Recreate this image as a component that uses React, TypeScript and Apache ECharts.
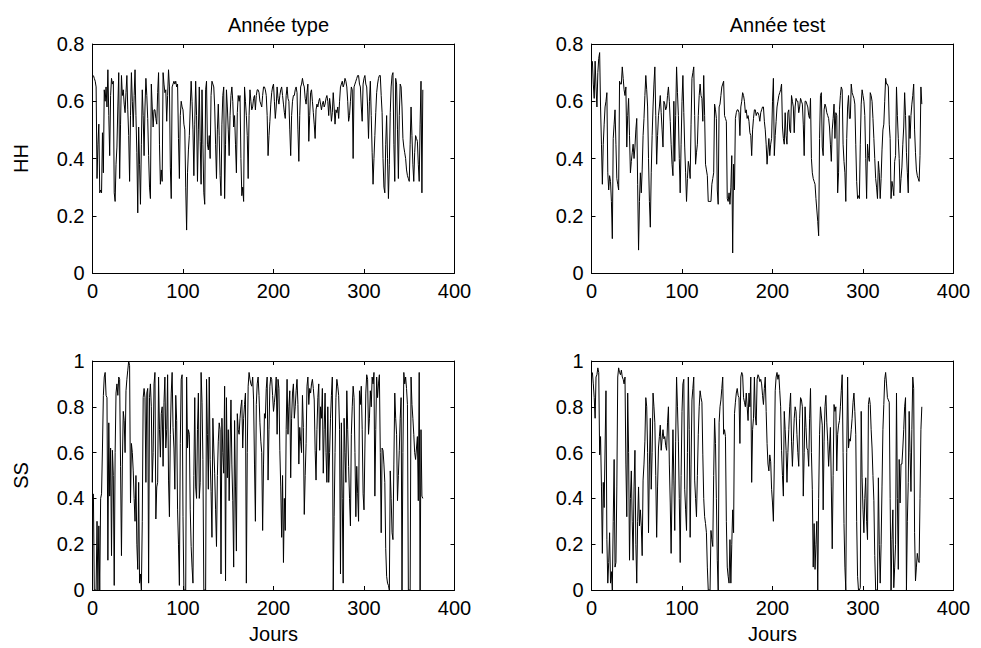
import React, { useEffect, useRef } from "react";
import * as echarts from "echarts";

const panelTitles = ["Année type", "Année test"];
const rowNames = ["HH", "SS"];
const xAxisName = "Jours";
const xTicks = [0, 100, 200, 300, 400];

// HH, année type (jour 1..365)
const hhType = [
  0.69, 0.68, 0.67, 0.65, 0.33, 0.45, 0.52, 0.28, 0.29, 0.28,
  0.49, 0.35, 0.64, 0.60, 0.65, 0.58, 0.71, 0.55, 0.41, 0.62,
  0.68, 0.66, 0.67, 0.28, 0.25, 0.38, 0.44, 0.58, 0.70, 0.33,
  0.52, 0.69, 0.62, 0.64, 0.59, 0.56, 0.63, 0.69, 0.57, 0.48,
  0.32, 0.55, 0.70, 0.60, 0.51, 0.62, 0.71, 0.55, 0.42, 0.21,
  0.51, 0.38, 0.24, 0.45, 0.64, 0.55, 0.41, 0.58, 0.68, 0.62,
  0.54, 0.41, 0.30, 0.26, 0.66, 0.58, 0.51, 0.57, 0.57, 0.54,
  0.52, 0.63, 0.70, 0.45, 0.31, 0.36, 0.32, 0.70, 0.66, 0.63,
  0.64, 0.53, 0.62, 0.71, 0.65, 0.37, 0.26, 0.65, 0.66, 0.67,
  0.66, 0.67, 0.65, 0.66, 0.47, 0.33, 0.55, 0.60, 0.58, 0.57,
  0.52, 0.50, 0.30, 0.15, 0.35, 0.43, 0.48, 0.58, 0.67, 0.60,
  0.50, 0.34, 0.52, 0.67, 0.55, 0.32, 0.50, 0.65, 0.46, 0.31,
  0.64, 0.45, 0.28, 0.24, 0.64, 0.67, 0.45, 0.43, 0.48, 0.40,
  0.62, 0.67, 0.66, 0.65, 0.58, 0.45, 0.33, 0.50, 0.59, 0.48,
  0.34, 0.27, 0.52, 0.62, 0.65, 0.26, 0.45, 0.64, 0.58, 0.50,
  0.41, 0.55, 0.62, 0.65, 0.60, 0.51, 0.55, 0.45, 0.35, 0.56,
  0.62, 0.60, 0.62, 0.40, 0.27, 0.30, 0.25, 0.65, 0.60, 0.55,
  0.48, 0.33, 0.55, 0.64, 0.60, 0.57, 0.58, 0.61, 0.62, 0.57,
  0.62, 0.64, 0.64, 0.63, 0.60, 0.59, 0.58, 0.62, 0.65, 0.65,
  0.64, 0.62, 0.55, 0.41, 0.48, 0.53, 0.59, 0.63, 0.65, 0.66,
  0.60, 0.54, 0.58, 0.65, 0.61, 0.59, 0.62, 0.64, 0.65, 0.62,
  0.59, 0.56, 0.54, 0.62, 0.65, 0.61, 0.60, 0.50, 0.41, 0.55,
  0.60, 0.62, 0.62, 0.64, 0.65, 0.63, 0.50, 0.39, 0.55, 0.65,
  0.66, 0.68, 0.66, 0.65, 0.61, 0.59, 0.63, 0.66, 0.46, 0.55,
  0.63, 0.64, 0.60, 0.56, 0.52, 0.47, 0.57, 0.59, 0.58, 0.60,
  0.61, 0.59, 0.57, 0.59, 0.60, 0.58, 0.59, 0.61, 0.62, 0.60,
  0.55, 0.61, 0.58, 0.53, 0.56, 0.63, 0.58, 0.52, 0.57, 0.56,
  0.58, 0.54, 0.60, 0.65, 0.66, 0.67, 0.65, 0.66, 0.68, 0.67,
  0.65, 0.60, 0.53, 0.55, 0.60, 0.65, 0.64, 0.40, 0.65, 0.66,
  0.67, 0.68, 0.69, 0.69, 0.66, 0.65, 0.58, 0.53, 0.66, 0.68,
  0.69, 0.66, 0.65, 0.58, 0.47, 0.60, 0.67, 0.55, 0.42, 0.31,
  0.40, 0.48, 0.56, 0.63, 0.66, 0.68, 0.69, 0.69, 0.62, 0.56,
  0.40, 0.30, 0.28, 0.45, 0.55, 0.40, 0.26, 0.38, 0.56, 0.65,
  0.69, 0.70, 0.45, 0.32, 0.68, 0.66, 0.50, 0.33, 0.55, 0.66,
  0.65, 0.58, 0.47, 0.44, 0.42, 0.40, 0.36, 0.34, 0.33, 0.32,
  0.45, 0.58, 0.48, 0.38, 0.32, 0.42, 0.48, 0.47, 0.46, 0.38,
  0.32, 0.52, 0.67, 0.28, 0.64,
];

// HH, année test
const hhTest = [
  0.74, 0.66, 0.61, 0.74, 0.65, 0.58, 0.70, 0.75, 0.77, 0.58,
  0.45, 0.31, 0.45, 0.52, 0.58, 0.60, 0.63, 0.35, 0.29, 0.34,
  0.32, 0.25, 0.12, 0.47, 0.52, 0.57, 0.45, 0.33, 0.31, 0.29,
  0.67, 0.66, 0.66, 0.72, 0.68, 0.64, 0.62, 0.65, 0.44, 0.55,
  0.61, 0.48, 0.35, 0.39, 0.42, 0.45, 0.40, 0.44, 0.50, 0.54,
  0.31, 0.08, 0.25, 0.35, 0.28, 0.36, 0.48, 0.54, 0.62, 0.69,
  0.64, 0.58, 0.40, 0.25, 0.16, 0.35, 0.48, 0.58, 0.66, 0.72,
  0.55, 0.38, 0.48, 0.55, 0.58, 0.62, 0.56, 0.50, 0.44, 0.60,
  0.59, 0.57, 0.58, 0.62, 0.65, 0.60, 0.53, 0.45, 0.38, 0.34,
  0.60, 0.39, 0.55, 0.72, 0.63, 0.55, 0.40, 0.28, 0.45, 0.60,
  0.69, 0.56, 0.44, 0.35, 0.25, 0.33, 0.39, 0.37, 0.33, 0.52,
  0.68, 0.70, 0.72, 0.55, 0.38, 0.42, 0.45, 0.55, 0.62, 0.66,
  0.62, 0.61, 0.53, 0.69, 0.55, 0.38, 0.36, 0.34, 0.25, 0.25,
  0.25, 0.25, 0.31, 0.33, 0.35, 0.59, 0.57, 0.54, 0.29, 0.24,
  0.58, 0.59, 0.62, 0.65, 0.66, 0.67, 0.55, 0.54, 0.53, 0.26,
  0.25, 0.28, 0.24, 0.30, 0.41, 0.07, 0.38, 0.29, 0.54, 0.56,
  0.57, 0.57, 0.56, 0.48, 0.58, 0.60, 0.63, 0.62, 0.60, 0.56,
  0.57, 0.54, 0.55, 0.53, 0.49, 0.48, 0.41, 0.50, 0.54, 0.57,
  0.57, 0.55, 0.56, 0.56, 0.55, 0.53, 0.56, 0.57, 0.58, 0.58,
  0.53, 0.50, 0.45, 0.38, 0.43, 0.47, 0.41, 0.45, 0.47, 0.60,
  0.68, 0.41, 0.48, 0.53, 0.58, 0.60, 0.62, 0.63, 0.64, 0.66,
  0.51, 0.47, 0.45, 0.56, 0.48, 0.45, 0.56, 0.57, 0.50, 0.49,
  0.62, 0.60, 0.58, 0.49, 0.58, 0.61, 0.60, 0.60, 0.56, 0.58,
  0.61, 0.60, 0.59, 0.52, 0.41, 0.60, 0.60, 0.59, 0.58, 0.55,
  0.54, 0.61, 0.40, 0.35, 0.33, 0.32, 0.31, 0.26, 0.22, 0.18,
  0.13, 0.47, 0.62, 0.63, 0.44, 0.41, 0.57, 0.59, 0.58, 0.56,
  0.55, 0.54, 0.51, 0.45, 0.39, 0.50, 0.54, 0.59, 0.47, 0.56,
  0.55, 0.28, 0.35, 0.57, 0.62, 0.65, 0.64, 0.45, 0.39, 0.35,
  0.25, 0.47, 0.58, 0.62, 0.54, 0.54, 0.66, 0.63, 0.62, 0.61,
  0.59, 0.45, 0.32, 0.26, 0.27, 0.26, 0.45, 0.59, 0.64, 0.62,
  0.60, 0.55, 0.40, 0.26, 0.45, 0.41, 0.39, 0.63, 0.62, 0.60,
  0.54, 0.47, 0.40, 0.33, 0.30, 0.26, 0.39, 0.35, 0.26, 0.33,
  0.43, 0.50, 0.52, 0.60, 0.68, 0.66, 0.66, 0.65, 0.52, 0.47,
  0.26, 0.32, 0.30, 0.27, 0.39, 0.41, 0.65, 0.55, 0.47, 0.40,
  0.28, 0.33, 0.37, 0.45, 0.51, 0.63, 0.55, 0.42, 0.35, 0.28,
  0.55, 0.47, 0.55, 0.59, 0.62, 0.66, 0.50, 0.42, 0.36, 0.34,
  0.33, 0.32, 0.41, 0.65, 0.59,
];

// SS, année type
const ssType = [
  0.42, 0.00, 0.00, 0.00, 0.30, 0.00, 0.28, 0.00, 0.40, 0.42,
  0.62, 0.85, 0.93, 0.95, 0.85, 0.84, 0.13, 0.73, 0.41, 0.62,
  0.15, 0.61, 0.50, 0.02, 0.60, 0.86, 0.90, 0.85, 0.93, 0.92,
  0.54, 0.15, 0.55, 0.78, 0.74, 0.60, 0.87, 0.92, 0.96, 1.00,
  0.98, 0.38, 0.64, 0.60, 0.52, 0.40, 0.30, 0.50, 0.20, 0.09,
  0.47, 0.03, 0.07, 0.00, 0.30, 0.84, 0.88, 0.84, 0.47, 0.86,
  0.88, 0.03, 0.84, 0.90, 0.80, 0.47, 0.60, 0.90, 0.95, 0.31,
  0.45, 0.47, 0.93, 0.70, 0.58, 0.77, 0.80, 0.54, 0.82, 0.93,
  0.62, 0.70, 0.94, 0.48, 0.32, 0.68, 0.86, 0.95, 0.71, 0.62,
  0.44, 0.85, 0.74, 0.35, 0.20, 0.02, 0.64, 0.92, 0.94, 0.32,
  0.00, 0.00, 0.00, 0.93, 0.62, 0.70, 0.68, 0.35, 0.19, 0.10,
  0.03, 0.50, 0.84, 0.45, 0.40, 0.70, 0.86, 0.40, 0.47, 0.95,
  0.82, 0.57, 0.00, 0.00, 0.00, 0.92, 0.68, 0.44, 0.93, 0.57,
  0.43, 0.23, 0.75, 0.62, 0.51, 0.35, 0.19, 0.50, 0.65, 0.73,
  0.70, 0.07, 0.75, 0.60, 0.51, 0.89, 0.04, 0.84, 0.49, 0.70,
  0.39, 0.62, 0.83, 0.55, 0.39, 0.10, 0.74, 0.45, 0.17, 0.77,
  0.70, 0.68, 0.75, 0.80, 0.83, 0.62, 0.75, 0.81, 0.86, 0.03,
  0.60, 0.89, 0.95, 0.92, 0.90, 0.89, 0.93, 0.83, 0.55, 0.30,
  0.81, 0.90, 0.93, 0.85, 0.73, 0.65, 0.60, 0.26, 0.55, 0.77,
  0.75, 0.88, 0.93, 0.48, 0.70, 0.89, 0.93, 0.92, 0.85, 0.78,
  0.82, 0.86, 0.93, 0.68, 0.92, 0.88, 0.61, 0.45, 0.23, 0.50,
  0.12, 0.40, 0.26, 0.70, 0.92, 0.68, 0.80, 0.87, 0.49, 0.75,
  0.86, 0.90, 0.75, 0.80, 0.87, 0.92, 0.81, 0.55, 0.71, 0.65,
  0.60, 0.85, 0.71, 0.33, 0.50, 0.64, 0.89, 0.93, 0.81, 0.88,
  0.86, 0.90, 0.92, 0.88, 0.83, 0.61, 0.48, 0.70, 0.84, 0.90,
  0.61, 0.80, 0.75, 0.88, 0.51, 0.70, 0.86, 0.60, 0.47, 0.80,
  0.47, 0.60, 0.75, 0.85, 0.93, 0.00, 0.32, 0.60, 0.84, 0.92,
  0.89, 0.85, 0.70, 0.07, 0.73, 0.40, 0.03, 0.75, 0.60, 0.47,
  0.87, 0.70, 0.54, 0.40, 0.28, 0.68, 0.80, 0.89, 0.84, 0.60,
  0.32, 0.54, 0.42, 0.30, 0.87, 0.81, 0.89, 0.70, 0.42, 0.35,
  0.62, 0.86, 0.94, 0.92, 0.68, 0.75, 0.87, 0.80, 0.93, 0.90,
  0.95, 0.41, 0.70, 0.93, 0.84, 0.90, 0.94, 0.60, 0.25, 0.62,
  0.61, 0.55, 0.47, 0.18, 0.06, 0.03, 0.02, 0.00, 0.52, 0.40,
  0.25, 0.22, 0.55, 0.86, 0.75, 0.68, 0.39, 0.50, 0.61, 0.75,
  0.84, 0.00, 0.60, 0.95, 0.90, 0.93, 0.88, 0.81, 0.00, 0.00,
  0.00, 0.93, 0.81, 0.75, 0.68, 0.60, 0.57, 0.62, 0.67, 0.39,
  0.95, 0.00, 0.70, 0.41, 0.40,
];

// SS, année test
const ssTest = [
  0.95, 0.90, 0.84, 0.75, 0.93, 0.94, 0.97, 0.95, 0.59, 0.67,
  0.45, 0.16, 0.47, 0.36, 0.62, 0.87, 0.22, 0.03, 0.12, 0.25,
  0.03, 0.08, 0.00, 0.30, 0.57, 0.10, 0.12, 0.45, 0.93, 0.97,
  0.95, 0.94, 0.96, 0.93, 0.92, 0.90, 0.93, 0.55, 0.32, 0.86,
  0.60, 0.13, 0.40, 0.52, 0.30, 0.13, 0.45, 0.61, 0.20, 0.03,
  0.30, 0.45, 0.28, 0.35, 0.28, 0.15, 0.48, 0.55, 0.65, 0.84,
  0.80, 0.60, 0.25, 0.55, 0.75, 0.44, 0.60, 0.86, 0.80, 0.73,
  0.50, 0.23, 0.45, 0.62, 0.67, 0.72, 0.61, 0.66, 0.70, 0.66,
  0.67, 0.63, 0.61, 0.73, 0.80, 0.55, 0.38, 0.16, 0.45, 0.70,
  0.48, 0.26, 0.65, 0.93, 0.80, 0.65, 0.40, 0.12, 0.50, 0.78,
  0.90, 0.92, 0.44, 0.35, 0.26, 0.60, 0.93, 0.70, 0.23, 0.55,
  0.83, 0.88, 0.93, 0.48, 0.40, 0.32, 0.50, 0.68, 0.80, 0.87,
  0.84, 0.82, 0.59, 0.40, 0.32, 0.29, 0.25, 0.10, 0.00, 0.00,
  0.00, 0.26, 0.22, 0.19, 0.50, 0.75, 0.64, 0.40, 0.13, 0.00,
  0.73, 0.80, 0.83, 0.88, 0.93, 0.68, 0.70, 0.67, 0.30, 0.10,
  0.06, 0.03, 0.22, 0.03, 0.20, 0.35, 0.25, 0.77, 0.82, 0.86,
  0.88, 0.85, 0.84, 0.64, 0.93, 0.95, 0.94, 0.84, 0.82, 0.80,
  0.86, 0.80, 0.74, 0.86, 0.80, 0.93, 0.47, 0.70, 0.75, 0.93,
  0.76, 0.72, 0.92, 0.94, 0.93, 0.91, 0.92, 0.90, 0.85, 0.81,
  0.88, 0.93, 0.78, 0.64, 0.55, 0.52, 0.59, 0.56, 0.44, 0.38,
  0.30, 0.55, 0.87, 0.93, 0.95, 0.92, 0.94, 0.87, 0.80, 0.61,
  0.50, 0.41, 0.78, 0.70, 0.61, 0.47, 0.60, 0.70, 0.80, 0.86,
  0.65, 0.54, 0.65, 0.75, 0.80, 0.78, 0.68, 0.60, 0.54, 0.75,
  0.84, 0.83, 0.80, 0.41, 0.60, 0.80, 0.71, 0.62, 0.61, 0.54,
  0.75, 0.88, 0.60, 0.44, 0.10, 0.29, 0.09, 0.20, 0.30, 0.00,
  0.40, 0.68, 0.80, 0.76, 0.72, 0.35, 0.65, 0.80, 0.85, 0.73,
  0.65, 0.54, 0.62, 0.71, 0.45, 0.18, 0.50, 0.81, 0.78, 0.80,
  0.52, 0.68, 0.72, 0.74, 0.80, 0.87, 0.94, 0.60, 0.29, 0.10,
  0.00, 0.60, 0.93, 0.62, 0.66, 0.65, 0.70, 0.75, 0.82, 0.86,
  0.78, 0.68, 0.30, 0.06, 0.00, 0.00, 0.01, 0.78, 0.49, 0.35,
  0.25, 0.40, 0.49, 0.30, 0.22, 0.81, 0.84, 0.81, 0.70, 0.62,
  0.50, 0.39, 0.15, 0.00, 0.00, 0.00, 0.49, 0.20, 0.03, 0.20,
  0.45, 0.70, 0.81, 0.92, 0.95, 0.90, 0.84, 0.83, 0.82, 0.40,
  0.00, 0.22, 0.35, 0.01, 0.10, 0.20, 0.86, 0.40, 0.09, 0.57,
  0.38, 0.55, 0.55, 0.62, 0.70, 0.80, 0.84, 0.00, 0.30, 0.47,
  0.78, 0.60, 0.43, 0.70, 0.93, 0.88, 0.25, 0.04, 0.10, 0.16,
  0.13, 0.12, 0.40, 0.70, 0.80,
];

const panels = [
  { values: hhType, yMax: 0.8, row: 0, col: 0 },
  { values: hhTest, yMax: 0.8, row: 0, col: 1 },
  { values: ssType, yMax: 1, row: 1, col: 0 },
  { values: ssTest, yMax: 1, row: 1, col: 1 },
];

const FONT = "'Liberation Sans', Arial, Helvetica, sans-serif";
const FS = 20;
const LEFTS = [92.5, 591.5];
const TOPS = [44, 361];
const W = 362;
const H = 229;

export default function App() {
  const ref = useRef<HTMLDivElement>(null);
  useEffect(() => {
    if (!ref.current) return;
    const chart = echarts.init(ref.current, undefined, { renderer: "svg" });
    const grid: any[] = [];
    const xAxis: any[] = [];
    const yAxis: any[] = [];
    const series: any[] = [];
    const fmt = (v: number) => String(Math.round(v * 10) / 10);
    panels.forEach((p, i) => {
      grid.push({ left: LEFTS[p.col], top: TOPS[p.row], width: W, height: H, containLabel: false });
      const baseX = {
        type: "value", gridIndex: i, min: xTicks[0], max: xTicks[xTicks.length - 1], interval: 100,
        axisLine: { show: true, onZero: false, lineStyle: { color: "#000", width: 1 } },
        axisTick: { show: true, inside: true, length: 4, lineStyle: { color: "#000" } },
        splitLine: { show: false },
      };
      xAxis.push({
        ...baseX, position: "bottom",
        axisLabel: { show: true, color: "#000", fontSize: FS, fontFamily: FONT, margin: 8 },
        name: p.row === 1 ? xAxisName : "", nameLocation: "middle", nameGap: 34,
        nameTextStyle: { color: "#000", fontSize: FS, fontFamily: FONT },
      });
      xAxis.push({ ...baseX, position: "top", axisLabel: { show: false } });
      const baseY = {
        type: "value", gridIndex: i, min: 0, max: p.yMax, interval: 0.2,
        axisLine: { show: true, onZero: false, lineStyle: { color: "#000", width: 1 } },
        axisTick: { show: true, inside: true, length: 4, lineStyle: { color: "#000" } },
        splitLine: { show: false },
      };
      yAxis.push({
        ...baseY, position: "left",
        axisLabel: { show: true, color: "#000", fontSize: FS, fontFamily: FONT, margin: 8, formatter: fmt },
        name: p.col === 0 ? rowNames[p.row] : "", nameLocation: "middle", nameGap: 62, nameRotate: 90,
        nameTextStyle: { color: "#000", fontSize: FS, fontFamily: FONT },
      });
      yAxis.push({ ...baseY, position: "right", axisLabel: { show: false } });
      series.push({
        type: "line", xAxisIndex: 2 * i, yAxisIndex: 2 * i,
        data: p.values.map((v, d) => [d + 1, v]),
        showSymbol: false, symbol: "none",
        lineStyle: { color: "#000", width: 1 },
      });
    });
    chart.setOption({
      animation: false,
      backgroundColor: "#fff",
      title: panelTitles.map((t, c) => ({
        text: t, left: LEFTS[c] + W / 2, top: 10, textAlign: "center",
        textStyle: { color: "#000", fontSize: FS, fontWeight: "normal", fontFamily: FONT },
      })),
      grid, xAxis, yAxis, series,
    });
    return () => chart.dispose();
  }, []);
  return (
    <div
      ref={ref}
      style={{ position: "fixed", left: 0, top: 0, width: 981, height: 648, background: "#fff" }}
    />
  );
}
